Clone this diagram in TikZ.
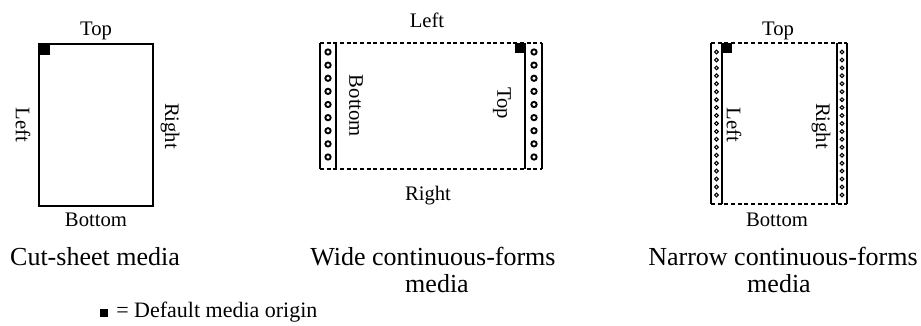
\documentclass[tikz,border=0pt]{standalone}
\usepackage{fontspec}
\setmainfont{Liberation Serif}
\usetikzlibrary{calc}

\begin{document}
\begin{tikzpicture}[x=0.75pt, y=-0.75pt,
  edge/.style={line width=1.5pt},
  perf/.style={line width=1.5pt, dash pattern=on 3pt off 2pt},
  widehole/.style={line width=1.4pt},
  narrowhole/.style={line width=0.8pt},
  side/.style={font=\fontsize{15.5}{18}\selectfont, inner sep=0pt},
  caption/.style={font=\fontsize{19.5}{20.25}\selectfont, inner sep=0pt}]
  \useasboundingbox (0,0) rectangle (921,325);
  % cut-sheet media
  \draw[edge] (39,44) rectangle (153,206);
  \fill (39,44) rectangle (50,55);
  \node[side, anchor=base] (csTop) at (96,35) {Top};
  \node[side, anchor=base] (csBottom) at (96,226) {Bottom};
  \node[side, rotate=-90] (csLeft) at (23,125) {Left};
  \node[side, rotate=-90] (csRight) at (170,126) {Right};
  \node[caption, anchor=base] (csCaption) at (95,265) {Cut-sheet media};
  % wide continuous-forms media
  \draw[perf] (320,43) -- (542,43);
  \draw[perf] (320,169) -- (542,169);
  \foreach \x in {320,336,525,542}
    \draw[edge] (\x,43) -- (\x,169);
  \fill (515,43) rectangle (525,53);
  \foreach \i in {0,...,8} {
    \draw[widehole] (328,52+\i*13.125) circle (2pt);
    \draw[widehole] (534,52+\i*13.125) circle (2pt);
  }
  \node[side, anchor=base] (wLeft) at (427,27) {Left};
  \node[side, anchor=base] (wRight) at (428,200) {Right};
  \node[side, rotate=-90] (wBottom) at (356,106) {Bottom};
  \node[side, rotate=-90] (wTop) at (502,103) {Top};
  \node[caption, anchor=base] (wCaption) at (433,265) {Wide continuous-forms};
  \node[caption, anchor=base] (wCaptionB) at (437,292) {media};
  % narrow continuous-forms media
  \draw[perf] (711,43) -- (847,43);
  \draw[perf] (711,204) -- (847,204);
  \foreach \x in {711,722,837,847}
    \draw[edge] (\x,43) -- (\x,204);
  \fill (722,43) rectangle (732,53);
  \foreach \i in {0,...,18} {
    \draw[narrowhole] (716.5,52+\i*7.94) circle (1.4pt);
    \draw[narrowhole] (842,52+\i*7.94) circle (1.4pt);
  }
  \node[side, anchor=base] (nTop) at (778,35) {Top};
  \node[side, anchor=base] (nBottom) at (777,226) {Bottom};
  \node[side, rotate=-90] (nLeft) at (734,125) {Left};
  \node[side, rotate=-90] (nRight) at (821,126) {Right};
  \node[caption, anchor=base] (nCaption) at (783,265) {Narrow continuous-forms};
  \node[caption, anchor=base] (nCaptionB) at (779,292) {media};
  % legend
  \fill (100,309) rectangle (108,317);
  \node[side, font=\fontsize{16.5}{18}\selectfont, anchor=base west] (legend) at (116,317) {= Default media origin};
\end{tikzpicture}
\end{document}
